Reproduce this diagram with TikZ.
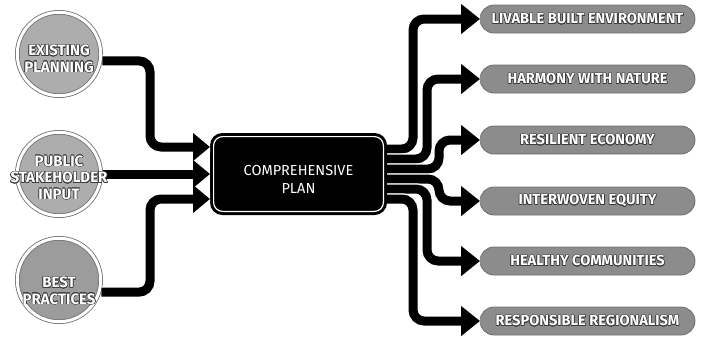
\documentclass[tikz,border=0pt]{standalone}
\usepackage{fontspec}
\setmainfont{Fira Sans}
\usepackage[copies]{contour}
\contourlength{0.5bp}
\usetikzlibrary{arrows.meta}

\definecolor{ring}{HTML}{6E6E6E}
\definecolor{discA}{HTML}{ADADAD}
\definecolor{discB}{HTML}{9C9C9C}
\definecolor{pillgray}{HTML}{8C8C8C}
\definecolor{inkedge}{HTML}{3C3C3C}

% white lettering with a dark rim
\newcommand\edged[1]{\contour{inkedge}{#1}}

\begin{document}
\begin{tikzpicture}[x=1bp,y=-1bp,
  source/.style={circle, minimum size=83.4bp, inner sep=0pt, outer sep=2.3bp,
    draw=ring, line width=0.8bp, double=white, double distance=3bp,
    fill=discA},
  sourcetext/.style={inner sep=0pt, text=white, align=center,
    font=\bfseries\fontsize{15bp}{16.5bp}\selectfont},
  goal/.style={rectangle, rounded corners=14bp, minimum width=215bp,
    minimum height=28bp, inner sep=0pt, outer sep=0pt, fill=pillgray,
    draw=ring, line width=0.8bp, text=white,
    font=\bfseries\fontsize{14.6bp}{16bp}\selectfont},
  hub/.style={rectangle, rounded corners=9bp, minimum width=169.8bp,
    minimum height=74.8bp, inner sep=0pt, outer sep=3.6bp, fill=black,
    draw=black, line width=3bp, double=white, double distance=1.2bp},
  hubtext/.style={inner sep=0pt, text=white, align=center,
    font=\fontsize{14.5bp}{18bp}\selectfont},
  flow/.style={line width=9bp, rounded corners=11bp,
    preaction={draw=white, line width=11.5bp, arrows=-}},
  intip/.style={-{Triangle[length=17bp,width=27bp]}},
  outtip/.style={-{Triangle[length=19bp,width=29bp]}},
]
\useasboundingbox (0,0) rectangle (712,345);

% input discs
\node[source] (c1) at (59,54) {};
\node[source] (c2) at (59,174) {};
\node[source, fill=discB] (c3) at (59,280) {};

% the plan
\node[hub] (plan) at (298.5,174) {};
\node[hubtext] (plant) at ([yshift=-5bp]plan.center) {COMPREHENSIVE\\PLAN};

% outcomes
\node[goal] (o1) at (587.5,19)  {\edged{LIVABLE BUILT ENVIRONMENT}};
\node[goal] (o2) at (587.5,79)  {\edged{HARMONY WITH NATURE}};
\node[goal] (o3) at (587.5,140) {\edged{RESILIENT ECONOMY}};
\node[goal] (o4) at (587.5,201) {\edged{INTERWOVEN EQUITY}};
\node[goal] (o5) at (587.5,261) {\edged{HEALTHY COMMUNITIES}};
\node[goal] (o6) at (587.5,321) {\edged{RESPONSIBLE REGIONALISM}};

% inputs into the plan
\draw[flow,intip] (c1.-9) -| ([xshift=-60bp,yshift=27bp]plan.west) -- ([yshift=27bp]plan.west);
\draw[flow,intip] (c2.east) -- (plan.west);
\draw[flow,intip] (c3.-16) -| ([xshift=-60bp,yshift=-25bp]plan.west) -- ([yshift=-25bp]plan.west);

% plan out to the outcomes
\draw[flow,outtip] ([yshift=25bp]plan.east) -| ([xshift=-67bp]o1.west) -- (o1.west);
\draw[flow,outtip] ([yshift=15bp]plan.east) -| ([xshift=-53bp]o2.west) -- (o2.west);
\draw[flow,outtip] ([yshift=5bp]plan.east) -| ([xshift=-41bp]o3.west) -- (o3.west);
\draw[flow,outtip] ([yshift=-5bp]plan.east) -| ([xshift=-41bp]o4.west) -- (o4.west);
\draw[flow,outtip] ([yshift=-15bp]plan.east) -| ([xshift=-53bp]o5.west) -- (o5.west);
\draw[flow,outtip] ([yshift=-25bp]plan.east) -| ([xshift=-67bp]o6.west) -- (o6.west);

% disc captions, set over the connector ends
\node[sourcetext] (c1t) at ([yshift=-5bp]c1.center) {\edged{EXISTING}\\\edged{PLANNING}};
\node[sourcetext] (c2t) at ([yshift=-4bp]c2.center) {\edged{PUBLIC}\\\edged{STAKEHOLDER}\\\edged{INPUT}};
\node[sourcetext] (c3t) at ([yshift=-11bp]c3.center) {\edged{BEST}\\\edged{PRACTICES}};
\end{tikzpicture}
\end{document}
